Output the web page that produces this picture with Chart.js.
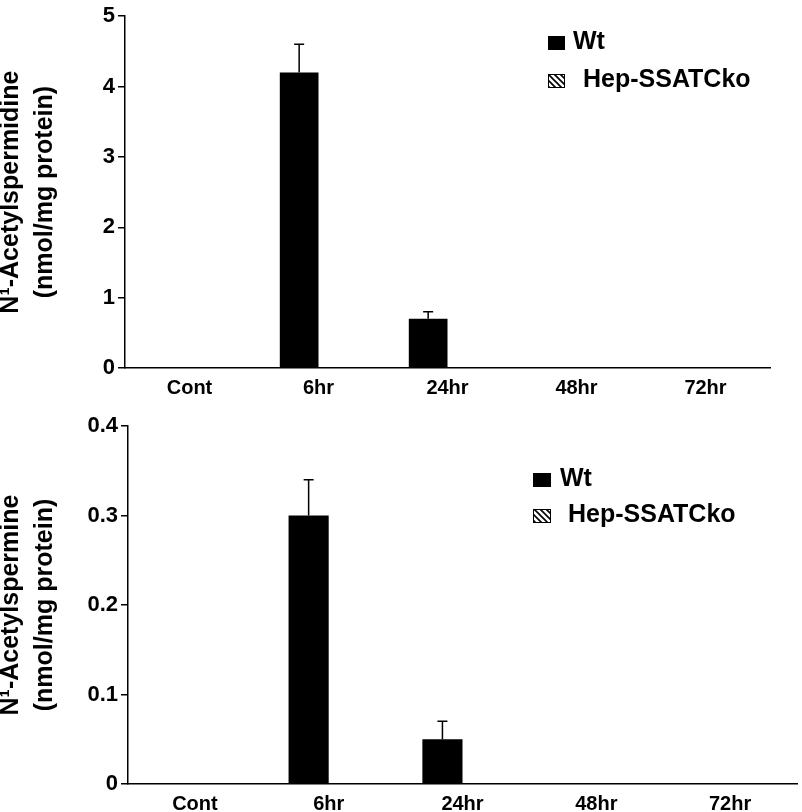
<!DOCTYPE html>
<html>
<head>
<meta charset="utf-8">
<script src="https://cdn.jsdelivr.net/npm/chart.js@4/dist/chart.umd.min.js"></script>
<style>
  body { margin: 0; background: #fff; }
  .panel { position: absolute; left: 0; width: 802px; }
</style>
</head>
<body>
<div class="panel" style="top:0"><canvas id="spermidineChart" width="802" height="395"></canvas></div>
<div class="panel" style="top:395px"><canvas id="spermineChart" width="802" height="417"></canvas></div>
<script>
// values
const categories = ['Cont', '6hr', '24hr', '48hr', '72hr'];
const seriesNames = ['Wt', 'Hep-SSATCko'];

const wtSpermidine = [0, 4.2, 0.7, 0, 0];
const wtSpermidineErr = [0, 0.4, 0.1, 0, 0];
const koSpermidine = [0, 0, 0, 0, 0];

const wtSpermine = [0, 0.3, 0.05, 0, 0];
const wtSpermineErr = [0, 0.04, 0.02, 0, 0];
const koSpermine = [0, 0, 0, 0, 0];

Chart.defaults.font.family = '"Liberation Sans", Arial, sans-serif';
Chart.defaults.font.weight = 'bold';
Chart.defaults.color = '#000';

// diagonal hatch for the knockout series
function hatch() {
  const c = document.createElement('canvas');
  c.width = 6; c.height = 6;
  const g = c.getContext('2d');
  g.fillStyle = '#fff';
  g.fillRect(0, 0, 6, 6);
  g.strokeStyle = '#000';
  g.lineWidth = 1.6;
  g.beginPath();
  g.moveTo(-1, -1); g.lineTo(7, 7);
  g.moveTo(-4, 2); g.lineTo(4, 10);
  g.moveTo(2, -4); g.lineTo(10, 4);
  g.stroke();
  return g.createPattern(c, 'repeat');
}
const hatchFill = hatch();

const errorBars = {
  id: 'errorBars',
  afterDatasetsDraw(chart) {
    const ctx = chart.ctx;
    const y = chart.scales.y;
    chart.data.datasets.forEach((ds, di) => {
      if (!ds.errors) return;
      const meta = chart.getDatasetMeta(di);
      ds.errors.forEach((e, i) => {
        if (!e) return;
        const bar = meta.data[i];
        const top = y.getPixelForValue(ds.data[i] + e);
        ctx.save();
        ctx.strokeStyle = '#000';
        ctx.lineWidth = 1.5;
        ctx.beginPath();
        ctx.moveTo(bar.x, bar.y);
        ctx.lineTo(bar.x, top);
        ctx.moveTo(bar.x - 5, top);
        ctx.lineTo(bar.x + 5, top);
        ctx.stroke();
        ctx.restore();
      });
    });
  }
};

const boxLegend = {
  id: 'boxLegend',
  afterDraw(chart, args, opts) {
    const ctx = chart.ctx;
    ctx.save();
    ctx.font = 'bold 25px "Liberation Sans", Arial, sans-serif';
    ctx.textBaseline = 'middle';
    ctx.fillStyle = '#000';
    chart.data.datasets.forEach((ds, i) => {
      const y = opts.y + i * opts.rowGap;
      ctx.fillStyle = ds.backgroundColor;
      ctx.fillRect(opts.x, y, opts.boxW, opts.boxH);
      if (ds.backgroundColor !== '#000') {
        ctx.strokeStyle = '#000';
        ctx.lineWidth = 1;
        ctx.strokeRect(opts.x + 0.5, y + 0.5, opts.boxW - 1, opts.boxH - 1);
      }
      ctx.fillStyle = '#000';
      ctx.fillText(ds.label, opts.x + opts.textX[i], y + opts.boxH / 2 - 1);
    });
    ctx.restore();
  }
};

function makeChart(id, wt, wtErr, ko, yMax, yStep, yTitle, axisWidth, pad, legend) {
  return new Chart(document.getElementById(id), {
    type: 'bar',
    data: {
      labels: categories,
      datasets: [
        { label: seriesNames[0], data: wt, errors: wtErr, backgroundColor: '#000' },
        { label: seriesNames[1], data: ko, backgroundColor: hatchFill }
      ]
    },
    options: {
      responsive: false,
      animation: false,
      events: [],
      layout: { padding: pad },
      datasets: { bar: { categoryPercentage: 0.6, barPercentage: 1.0 } },
      plugins: { legend: { display: false }, tooltip: { enabled: false }, boxLegend: legend },
      scales: {
        x: {
          grid: { display: false, drawTicks: false },
          border: { display: true, color: '#000', width: 1.5 },
          ticks: { font: { size: 20 }, padding: 8 },
          afterFit: s => { s.height = pad.xHeight; }
        },
        y: {
          min: 0,
          max: yMax,
          ticks: { stepSize: yStep, font: { size: 22 }, padding: 3 },
          grid: { drawOnChartArea: false, tickLength: 7, color: '#000', lineWidth: 1.5 },
          border: { display: true, color: '#000', width: 1.5 },
          title: {
            display: true,
            text: yTitle,
            font: { size: 25, weight: 'bold', lineHeight: 1.36 },
            padding: { top: 0, bottom: 0 }
          },
          afterFit: s => { s.width = axisWidth; }
        }
      }
    },
    plugins: [errorBars, boxLegend]
  });
}

makeChart('spermidineChart', wtSpermidine, wtSpermidineErr, koSpermidine, 5, 1,
  ['N\u00B9-Acetylspermidine', '(nmol/mg protein)'], 131,
  { left: -6, right: 32, top: 0, bottom: 0, xHeight: 27 },
  { x: 548, y: 36, rowGap: 38, boxW: 17, boxH: 14, textX: [25, 35] });

makeChart('spermineChart', wtSpermine, wtSpermineErr, koSpermine, 0.4, 0.1,
  ['N\u00B9-Acetylspermine', '(nmol/mg protein)'], 134,
  { left: -6, right: 5, top: 31, bottom: 0, xHeight: 28 },
  { x: 533, y: 78, rowGap: 36, boxW: 18, boxH: 14, textX: [27, 35] });
</script>
</body>
</html>
